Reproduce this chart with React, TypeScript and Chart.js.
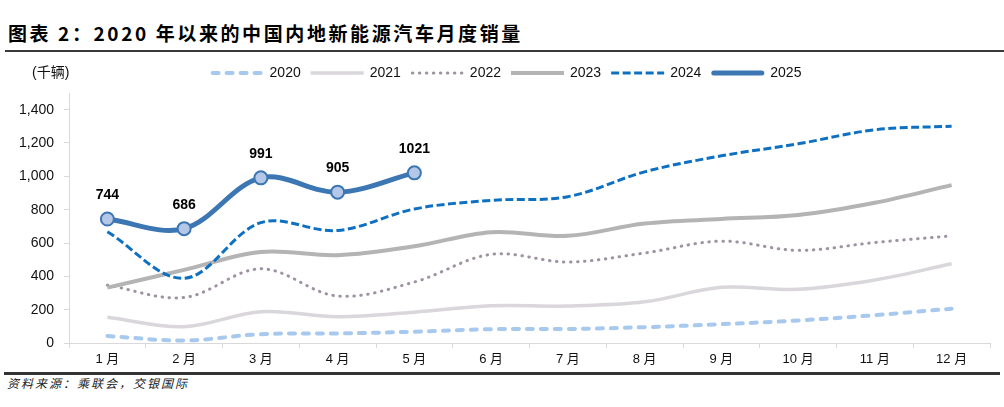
import React, { useEffect, useRef } from 'react';
import { Chart, registerables } from 'chart.js';

Chart.register(...registerables);

const months = ['1 月', '2 月', '3 月', '4 月', '5 月', '6 月', '7 月', '8 月', '9 月', '10 月', '11 月', '12 月'];
const seriesNames = ['2020', '2021', '2022', '2023', '2024', '2025'];
const sales2020 = [42, 15, 53, 57, 68, 83, 84, 95, 113, 135, 167, 206];
const sales2021 = [154, 98, 188, 158, 185, 223, 222, 247, 334, 322, 378, 475];
const sales2022 = [347, 273, 445, 282, 366, 532, 486, 540, 611, 556, 603, 643];
const sales2023 = [332, 439, 546, 527, 580, 665, 643, 717, 744, 768, 841, 947];
const sales2024 = [668, 388, 722, 675, 804, 856, 878, 1027, 1123, 1195, 1279, 1301];
const sales2025 = [744, 686, 991, 905, 1021];
const yTicks = [0, 200, 400, 600, 800, 1000, 1200, 1400];
const unitLabel = '(千辆)';
const titleText = '图表 2：2020 年以来的中国内地新能源汽车月度销量';
const sourceText = '资料来源：乘联会，交银国际';

const NUM_FONT = "'Liberation Sans', 'Noto Sans CJK SC', sans-serif";
const CJK_FONT = "'Noto Sans CJK SC', 'Liberation Sans', sans-serif";

const legendPlugin = {
  id: 'customLegend',
  afterDraw(chart: any) {
    const ctx = chart.ctx as CanvasRenderingContext2D;
    ctx.save();
    ctx.font = `14px ${NUM_FONT}`;
    const y = 21;
    const lineLen = 53;
    const gapText = 6;
    const gapItem = 10;
    const items = chart.data.datasets.map((ds: any) => ({
      ds,
      w: lineLen + gapText + ctx.measureText(ds.label).width,
    }));
    const total = items.reduce((s: number, it: any) => s + it.w, 0) + gapItem * (items.length - 1);
    let x = 506 - total / 2;
    items.forEach(({ ds, w }: any) => {
      const cap = ds.borderCapStyle || 'butt';
      const inset = cap === 'round' ? ds.borderWidth / 2 : 0;
      ctx.beginPath();
      ctx.strokeStyle = ds.borderColor;
      ctx.lineWidth = ds.borderWidth;
      ctx.setLineDash(ds.borderDash || []);
      ctx.lineCap = cap;
      ctx.moveTo(x + inset, y);
      ctx.lineTo(x + lineLen - inset, y);
      ctx.stroke();
      ctx.setLineDash([]);
      ctx.fillStyle = '#111';
      ctx.textBaseline = 'middle';
      ctx.textAlign = 'left';
      ctx.fillText(ds.label, x + lineLen + gapText, y);
      x += w + gapItem;
    });
    ctx.font = `14px ${NUM_FONT}`;
    ctx.fillText(unitLabel, 32, y);
    ctx.restore();
  },
};

const dataLabelPlugin = {
  id: 'dataLabels2025',
  afterDatasetsDraw(chart: any) {
    const idx = chart.data.datasets.findIndex((d: any) => d.label === '2025');
    if (idx < 0) return;
    const meta = chart.getDatasetMeta(idx);
    const ctx = chart.ctx as CanvasRenderingContext2D;
    ctx.save();
    ctx.font = `bold 14px ${NUM_FONT}`;
    ctx.fillStyle = '#000';
    ctx.textAlign = 'center';
    ctx.textBaseline = 'middle';
    meta.data.forEach((el: any, i: number) => {
      ctx.fillText(String(sales2025[i]), el.x, el.y - 24);
    });
    ctx.restore();
  },
};

export default function App() {
  const ref = useRef<HTMLCanvasElement | null>(null);

  useEffect(() => {
    if (!ref.current) return;
    const base = {
      fill: false,
      tension: 0.35,
      pointRadius: 0,
      pointHoverRadius: 0,
    };
    const chart = new Chart(ref.current, {
      type: 'line',
      data: {
        labels: months,
        datasets: [
          { ...base, label: seriesNames[0], data: sales2020, borderColor: '#A8C9EE', borderWidth: 4, borderDash: [6, 8], borderCapStyle: 'round', order: 6 },
          { ...base, label: seriesNames[1], data: sales2021, borderColor: '#D9D6DC', borderWidth: 3.5, order: 5 },
          { ...base, label: seriesNames[2], data: sales2022, borderColor: '#9F93A3', borderWidth: 3, borderDash: [0.5, 6.5], borderCapStyle: 'round', order: 4 },
          { ...base, label: seriesNames[3], data: sales2023, borderColor: '#B4B4B4', borderWidth: 4, order: 3 },
          { ...base, label: seriesNames[4], data: sales2024, borderColor: '#0E70C0', borderWidth: 3, borderDash: [8, 3.5], order: 2 },
          {
            ...base,
            label: seriesNames[5],
            data: sales2025,
            borderColor: '#3C77B3',
            borderWidth: 5,
            borderCapStyle: 'round',
            pointRadius: 6.5,
            pointBackgroundColor: '#B4C7E7',
            pointBorderColor: '#3C77B3',
            pointBorderWidth: 2,
            order: 1,
          },
        ] as any,
      },
      options: {
        responsive: false,
        animation: false,
        events: [],
        layout: { padding: { top: 41, right: 14, left: 0, bottom: 0 } },
        plugins: {
          legend: { display: false },
          tooltip: { enabled: false },
        },
        scales: {
          x: {
            type: 'category',
            offset: true,
            grid: {
              display: true,
              drawOnChartArea: false,
              drawTicks: true,
              tickLength: 5,
              color: '#D9D9D9',
              offset: true,
            },
            border: { display: true, color: '#D9D9D9' },
            ticks: {
              font: { family: NUM_FONT, size: 13 },
              color: '#111',
              padding: 4,
              maxRotation: 0,
              autoSkip: false,
            },
            afterFit: (s: any) => {
              s.height = 25;
            },
          },
          y: {
            min: 0,
            max: 1500,
            afterBuildTicks: (s: any) => {
              s.ticks = yTicks.map((v) => ({ value: v }));
            },
            ticks: {
              font: { family: NUM_FONT, size: 14 },
              color: '#111',
              padding: 10,
              callback: (v: any) => Number(v).toLocaleString('en-US'),
            },
            grid: {
              display: true,
              drawOnChartArea: false,
              drawTicks: true,
              tickLength: 5,
              color: '#D9D9D9',
            },
            border: { display: true, color: '#D9D9D9' },
            afterFit: (s: any) => {
              s.width = 69;
            },
          },
        },
      } as any,
      plugins: [legendPlugin, dataLabelPlugin],
    });
    return () => chart.destroy();
  }, []);

  return (
    <div style={{ position: 'absolute', left: 0, top: 0, width: 1004, height: 407, background: '#fff', overflow: 'hidden' }}>
      <div
        style={{
          position: 'absolute',
          left: 8,
          top: 21,
          fontFamily: CJK_FONT,
          fontWeight: 700,
          fontSize: 19,
          letterSpacing: 2.6,
          lineHeight: '24px',
          color: '#000',
          whiteSpace: 'nowrap',
        }}
      >
        {titleText}
      </div>
      <div style={{ position: 'absolute', left: 5, top: 50, width: 999, height: 2, background: '#3a3a3a' }} />
      <canvas
        ref={ref}
        width={1004}
        height={316}
        style={{ position: 'absolute', left: 0, top: 52, width: 1004, height: 316, display: 'block' }}
      />
      <div style={{ position: 'absolute', left: 4, top: 372, width: 996, height: 3, background: '#333' }} />
      <div
        style={{
          position: 'absolute',
          left: 7,
          top: 375,
          fontFamily: CJK_FONT,
          fontStyle: 'italic',
          fontSize: 12,
          letterSpacing: 2,
          lineHeight: '16px',
          color: '#222',
          whiteSpace: 'nowrap',
        }}
      >
        {sourceText}
      </div>
    </div>
  );
}
